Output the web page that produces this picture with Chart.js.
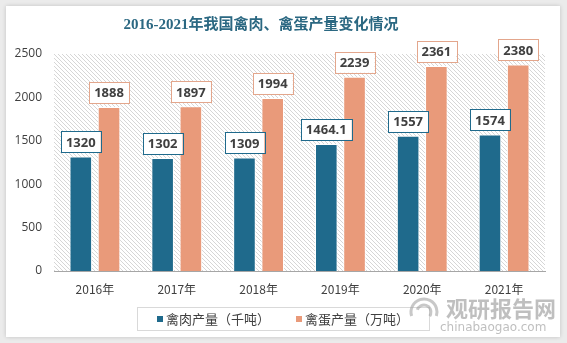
<!DOCTYPE html>
<html>
<head>
<meta charset="utf-8">
<script src="https://cdn.jsdelivr.net/npm/chart.js@4"></script>
<style>
  html, body { margin: 0; padding: 0; background: #ebebeb; }
  #card {
    position: absolute; left: 6px; top: 6px; width: 554px; height: 331px;
    background: #fff; box-shadow: 0 0 4px rgba(0,0,0,0.18);
  }
  #card canvas { display: block; }
</style>
</head>
<body>
<div id="card"><canvas id="chart" width="554" height="331"></canvas></div>
<script>
// Data
var years = ['2016年', '2017年', '2018年', '2019年', '2020年', '2021年'];
var meat = [1320, 1302, 1309, 1464.1, 1557, 1574];   // 禽肉产量（千吨）
var eggs = [1888, 1897, 1994, 2239, 2361, 2380];     // 禽蛋产量（万吨）
var yTicks = [0, 500, 1000, 1500, 2000, 2500];

var BLUE = '#1f6a8c', ORANGE = '#e99a7a';
var FONT = '"Noto Sans CJK SC", "Noto Sans", sans-serif';

// hatched background for plot area
function makeHatch() {
    var c = document.createElement('canvas');
    c.width = 4; c.height = 4;
    var g = c.getContext('2d');
    g.strokeStyle = '#d6d6d6';
    g.lineWidth = 1;
    g.beginPath();
    g.moveTo(0, 0); g.lineTo(4, 4);
    g.moveTo(-2, 2); g.lineTo(2, 6);
    g.moveTo(2, -2); g.lineTo(6, 2);
    g.stroke();
    return g.createPattern(c, 'repeat');
}

var hatchPlugin = {
    id: 'hatch',
    beforeDraw: function(chart) {
        var a = chart.chartArea, ctx = chart.ctx;
        ctx.save();
        ctx.fillStyle = makeHatch();
        ctx.fillRect(a.left, a.top, a.right - a.left, a.bottom - a.top);
        ctx.restore();
    }
};

var decoPlugin = {
    id: 'deco',
    afterDraw: function(chart) {
        var ctx = chart.ctx;
        ctx.save();
        // title
        ctx.fillStyle = '#2b6882';
        ctx.font = 'bold 15px "Liberation Serif", "Noto Sans CJK SC", serif';
        ctx.textAlign = 'center';
        ctx.textBaseline = 'middle';
        ctx.fillText('2016-2021年我国禽肉、禽蛋产量变化情况', 255, 19);

        // value boxes
        chart.data.datasets.forEach(function(ds, di) {
            var meta = chart.getDatasetMeta(di);
            meta.data.forEach(function(bar, i) {
                var txt = String(ds.data[i]);
                ctx.font = 'bold 13px "Open Sans", "Noto Sans", sans-serif';
                var w = ctx.measureText(txt).width + 10, h = 21;
                var x = bar.x - w / 2, y = bar.y - 4 - h;
                ctx.fillStyle = '#fff';
                ctx.fillRect(x, y, w, h);
                ctx.strokeStyle = di === 0 ? BLUE : '#e3a68c';
                ctx.lineWidth = 1;
                ctx.strokeRect(Math.round(x) + 0.5, Math.round(y) + 0.5, Math.round(w), h);
                ctx.fillStyle = '#404040';
                ctx.textAlign = 'center';
                ctx.textBaseline = 'middle';
                ctx.fillText(txt, bar.x, y + h / 2 + 1);
            });
        });

        // legend with frame
        ctx.strokeStyle = '#d9d9d9';
        ctx.lineWidth = 1;
        ctx.strokeRect(131.5, 301.5, 292, 23);
        ctx.font = '13px ' + FONT;
        ctx.textAlign = 'left';
        ctx.textBaseline = 'middle';
        ctx.fillStyle = BLUE;
        ctx.fillRect(151, 310, 6, 6);
        ctx.fillStyle = '#404040';
        ctx.fillText('禽肉产量（千吨）', 160, 313);
        ctx.fillStyle = ORANGE;
        ctx.fillRect(290, 310, 6, 6);
        ctx.fillStyle = '#404040';
        ctx.fillText('禽蛋产量（万吨）', 299, 313);

        // watermark
        ctx.globalAlpha = 0.55;
        ctx.strokeStyle = '#9a9a9a';
        ctx.lineWidth = 3;
        ctx.beginPath();
        ctx.arc(418, 306, 13, Math.PI * 0.9, Math.PI * 2.1);
        ctx.stroke();
        ctx.beginPath();
        ctx.arc(418, 306, 7, Math.PI * 1.1, Math.PI * 2.2);
        ctx.stroke();
        ctx.fillStyle = '#8a8a8a';
        ctx.font = 'bold 22px ' + FONT;
        ctx.textAlign = 'left';
        ctx.fillText('观研报告网', 440, 303);
        ctx.font = '12px "DejaVu Sans", sans-serif';
        ctx.fillText('chinabaogao.com', 434, 322);
        ctx.restore();
    }
};

new Chart(document.getElementById('chart'), {
    type: 'bar',
    data: {
        labels: years,
        datasets: [
            { label: '禽肉产量（千吨）', data: meat, backgroundColor: BLUE,
              borderColor: '#fff', borderWidth: 1, borderSkipped: 'bottom' },
            { label: '禽蛋产量（万吨）', data: eggs, backgroundColor: ORANGE,
              borderColor: '#fff', borderWidth: 1, borderSkipped: 'bottom' }
        ]
    },
    options: {
        responsive: false,
        animation: false,
        layout: { padding: { left: 0, right: 15, top: 48, bottom: 36 } },
        datasets: { bar: { categoryPercentage: 0.69, barPercentage: 0.8 } },
        plugins: { legend: { display: false }, title: { display: false }, tooltip: { enabled: false } },
        scales: {
            x: {
                grid: { display: false, drawTicks: false },
                border: { display: true, color: '#a6a6a6' },
                ticks: { color: '#404040', font: { family: FONT, size: 12 }, padding: 11, maxRotation: 0 },
                afterFit: function(s) { s.height = 30; }
            },
            y: {
                min: 0, max: 2500,
                afterBuildTicks: function(s) { s.ticks = yTicks.map(function(v) { return { value: v }; }); },
                grid: { display: false, drawTicks: false },
                border: { display: false },
                ticks: { color: '#404040', font: { family: '"Open Sans", sans-serif', size: 12 }, padding: 12,
                         callback: function(v) { return String(v); } },
                afterFit: function(s) { s.width = 48; }
            }
        }
    },
    plugins: [hatchPlugin, decoPlugin]
});
</script>
</body>
</html>
